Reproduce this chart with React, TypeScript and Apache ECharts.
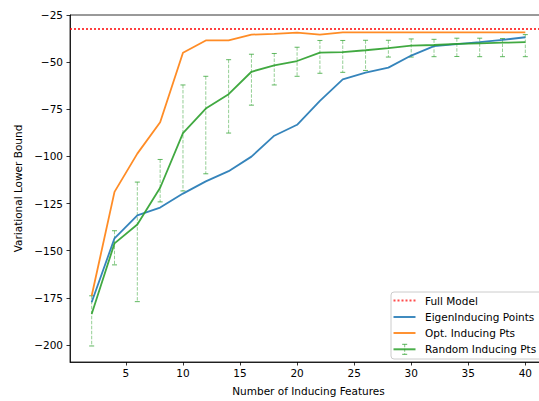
import React, { useEffect, useRef } from "react";
import * as echarts from "echarts";

// Number of inducing features on the x axis
const features = [2, 4, 6, 8, 10, 12, 14, 16, 18, 20, 22, 24, 26, 28, 30, 32, 34, 36, 38, 40];

// Variational lower bound of the full model (horizontal reference)
const fullModel = -32.4;

const eigenInducing = [
  -177.3, -143.4, -131.2, -127.1, -119.7, -113.2, -107.8, -100.1, -89.0, -83.2,
  -70.5, -59.1, -55.6, -52.9, -46.5, -41.5, -40.4, -39.4, -38.2, -36.8,
];

const optInducing = [
  -173.9, -118.8, -98.5, -81.9, -45.0, -38.5, -38.5, -35.4, -35.0, -34.3,
  -35.4, -34.2, -34.2, -34.2, -34.2, -34.2, -34.2, -34.2, -34.2, -34.2,
];

const randomMean = [
  -183.5, -146.1, -136.1, -116.6, -87.6, -74.6, -67.0, -55.1, -51.7, -49.4,
  -45.0, -44.7, -43.7, -42.6, -41.2, -40.9, -40.3, -40.0, -39.7, -39.4,
];
const randomLow = [
  -200.5, -157.5, -177.0, -124.1, -118.3, -109.2, -87.6, -72.8, -62.1, -57.5,
  -55.9, -55.4, -54.4, -47.3, -47.3, -47.1, -47.0, -47.1, -47.1, -47.1,
];
const randomHigh = [
  -173.9, -139.4, -113.6, -101.6, -62.1, -57.5, -48.7, -45.8, -45.4, -42.1,
  -38.5, -38.5, -38.4, -38.4, -37.7, -37.9, -37.3, -37.3, -37.5, -35.4,
];

const xTicks = [5, 10, 15, 20, 25, 30, 35, 40];
const yTicks = [-200, -175, -150, -125, -100, -75, -50, -25];

const legendNames = ["Full Model", "EigenInducing Points", "Opt. Inducing Pts", "Random Inducing Pts"];

const BLUE = "#1f77b4";
const ORANGE = "#ff7f0e";
const GREEN = "#2ca02c";
const RED = "#ff0000";
const FONT = "DejaVu Sans";
const FONT_SIZE = 10.5;

const pairs = (ys: number[]) => features.map((x, i) => [x, ys[i]]);

export default function App() {
  const ref = useRef<HTMLDivElement>(null);

  useEffect(() => {
    if (!ref.current) return;
    const chart = echarts.init(ref.current, undefined, { renderer: "svg" });

    const textStyle = { fontFamily: FONT, fontSize: FONT_SIZE, color: "#000" };

    // legend drawn as graphic elements; the frame runs past the right edge
    const lx = 391;
    const ly = 292;
    const rowY = [300.5, 317, 333, 349.3];
    const sx1 = 393.5;
    const sx2 = 415.5;
    const ex = 404.7;
    const legendChildren: any[] = [
      {
        type: "rect",
        shape: { x: lx, y: ly, width: 170, height: 67, r: 3 },
        style: { fill: "rgba(255,255,255,0.8)", stroke: "#cccccc", lineWidth: 1 },
      },
      {
        type: "line",
        shape: { x1: sx1, y1: rowY[0], x2: sx2, y2: rowY[0] },
        style: { stroke: RED, opacity: 0.7, lineWidth: 2, lineDash: [2, 2] },
      },
      {
        type: "line",
        shape: { x1: sx1, y1: rowY[1], x2: sx2, y2: rowY[1] },
        style: { stroke: BLUE, opacity: 0.85, lineWidth: 2 },
      },
      {
        type: "line",
        shape: { x1: sx1, y1: rowY[2], x2: sx2, y2: rowY[2] },
        style: { stroke: ORANGE, opacity: 0.85, lineWidth: 2 },
      },
      {
        type: "line",
        shape: { x1: sx1, y1: rowY[3], x2: sx2, y2: rowY[3] },
        style: { stroke: GREEN, opacity: 0.85, lineWidth: 2 },
      },
      {
        type: "line",
        shape: { x1: ex, y1: rowY[3] - 5, x2: ex, y2: rowY[3] + 5 },
        style: { stroke: GREEN, opacity: 0.6, lineWidth: 1, lineDash: [3, 1.5] },
      },
      {
        type: "line",
        shape: { x1: ex - 2.5, y1: rowY[3] - 5, x2: ex + 2.5, y2: rowY[3] - 5 },
        style: { stroke: GREEN, opacity: 0.8, lineWidth: 1 },
      },
      {
        type: "line",
        shape: { x1: ex - 2.5, y1: rowY[3] + 5, x2: ex + 2.5, y2: rowY[3] + 5 },
        style: { stroke: GREEN, opacity: 0.8, lineWidth: 1 },
      },
    ];
    legendNames.forEach((name, i) => {
      legendChildren.push({
        type: "text",
        x: 425,
        y: rowY[i],
        style: {
          text: name,
          fontFamily: FONT,
          fontSize: FONT_SIZE,
          fill: "#000",
          verticalAlign: "middle",
          align: "left",
        },
      });
    });

    chart.setOption({
      animation: false,
      grid: {
        left: 70,
        top: 15,
        width: 477,
        height: 349,
        show: true,
        borderColor: "#000",
        borderWidth: 0.8,
        backgroundColor: "transparent",
      },
      xAxis: {
        type: "value",
        min: 0.1,
        max: 41.9,
        name: "Number of Inducing Features",
        nameLocation: "middle",
        nameGap: 23,
        nameTextStyle: textStyle,
        axisLine: { lineStyle: { color: "#000", width: 0.8 } },
        axisTick: {
          show: true,
          length: 3.5,
          customValues: xTicks,
          lineStyle: { color: "#000", width: 0.8 },
        },
        axisLabel: { ...textStyle, margin: 5, customValues: xTicks },
        splitLine: { show: false },
      },
      yAxis: {
        type: "value",
        min: -209,
        max: -25,
        name: "Variational Lower Bound",
        nameLocation: "middle",
        nameGap: 36,
        nameRotate: 90,
        nameTextStyle: textStyle,
        axisLine: { show: true, lineStyle: { color: "#000", width: 0.8 } },
        axisTick: {
          show: true,
          length: 3.5,
          customValues: yTicks,
          lineStyle: { color: "#000", width: 0.8 },
        },
        axisLabel: {
          ...textStyle,
          margin: 7,
          customValues: yTicks,
          formatter: (v: number) => String(v).replace("-", "\u2212"),
        },
        splitLine: { show: false },
      },
      graphic: [{ type: "group", children: legendChildren, z: 100 }],
      series: [
        {
          name: "Full Model",
          type: "line",
          data: [],
          markLine: {
            silent: true,
            symbol: ["none", "none"],
            label: { show: false },
            lineStyle: { color: RED, opacity: 0.75, width: 2, type: [2, 2] },
            data: [{ yAxis: fullModel }],
          },
        },
        {
          name: "Random Inducing Pts errors",
          type: "custom",
          z: 1,
          data: features.map((x, i) => [x, randomLow[i], randomHigh[i]]),
          renderItem: (_params: any, api: any) => {
            const top = api.coord([api.value(0), api.value(2)]);
            const bot = api.coord([api.value(0), api.value(1)]);
            const cap = 2.5;
            return {
              type: "group",
              children: [
                {
                  type: "line",
                  shape: { x1: top[0], y1: top[1], x2: bot[0], y2: bot[1] },
                  style: { stroke: GREEN, opacity: 0.5, lineWidth: 1, lineDash: [3.5, 1.5] },
                },
                {
                  type: "line",
                  shape: { x1: top[0] - cap, y1: top[1], x2: top[0] + cap, y2: top[1] },
                  style: { stroke: GREEN, opacity: 0.75, lineWidth: 1 },
                },
                {
                  type: "line",
                  shape: { x1: bot[0] - cap, y1: bot[1], x2: bot[0] + cap, y2: bot[1] },
                  style: { stroke: GREEN, opacity: 0.75, lineWidth: 1 },
                },
              ],
            };
          },
        },
        {
          name: "EigenInducing Points",
          type: "line",
          z: 3,
          data: pairs(eigenInducing),
          showSymbol: false,
          symbol: "none",
          lineStyle: { color: BLUE, width: 1.8, opacity: 0.9 },
        },
        {
          name: "Opt. Inducing Pts",
          type: "line",
          z: 3,
          data: pairs(optInducing),
          showSymbol: false,
          symbol: "none",
          lineStyle: { color: ORANGE, width: 1.8, opacity: 0.9 },
        },
        {
          name: "Random Inducing Pts",
          type: "line",
          z: 4,
          data: pairs(randomMean),
          showSymbol: false,
          symbol: "none",
          lineStyle: { color: GREEN, width: 1.8, opacity: 0.9 },
        },
      ],
    });

    return () => chart.dispose();
  }, []);

  // the chart canvas is wider than the visible frame, so the right spine sits just out of view
  return (
    <div
      style={{
        position: "absolute",
        left: 0,
        top: 0,
        width: 539,
        height: 401,
        overflow: "hidden",
        background: "#fff",
      }}
    >
      <div ref={ref} style={{ width: 560, height: 401 }} />
    </div>
  );
}
